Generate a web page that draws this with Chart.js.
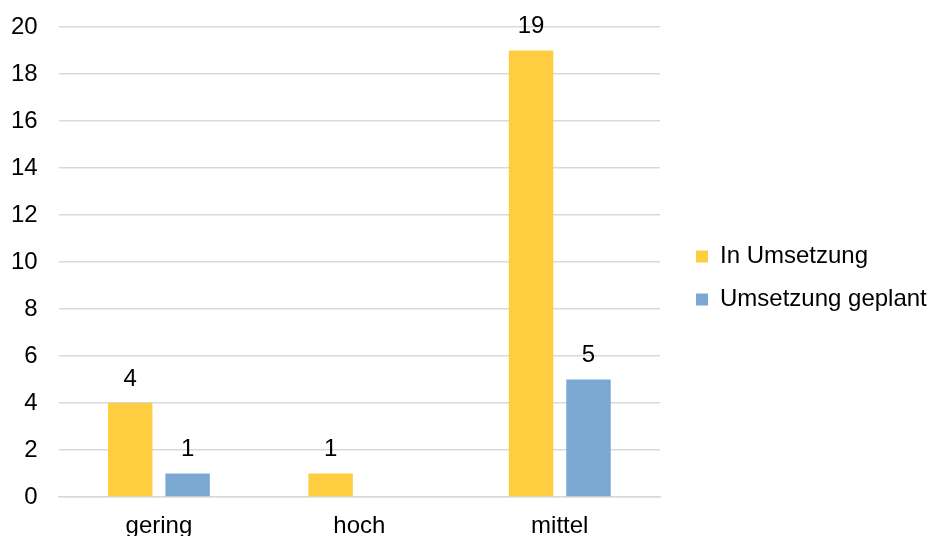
<!DOCTYPE html>
<html>
<head>
<meta charset="utf-8">
<script src="https://cdn.jsdelivr.net/npm/chart.js@4"></script>
<style>
  html, body { margin: 0; padding: 0; background: #fff; }
  #wrap { width: 930px; height: 536px; }
</style>
</head>
<body>
<div id="wrap"><canvas id="chart"></canvas></div>
<script>
// Daten
var kategorien = ['gering', 'hoch', 'mittel'];
var inUmsetzung = [4, 1, 19];
var umsetzungGeplant = [1, 0, 5];
var yTicks = [0, 2, 4, 6, 8, 10, 12, 14, 16, 18, 20];

var schrift = "'Liberation Sans', Arial, sans-serif";

// Werte über den Balken (0 wird nicht beschriftet)
var wertePlugin = {
    id: 'werte',
    afterDatasetsDraw: function(chart) {
        var ctx = chart.ctx;
        ctx.save();
        ctx.font = '24px ' + schrift;
        ctx.fillStyle = '#000';
        ctx.textAlign = 'center';
        ctx.textBaseline = 'middle';
        chart.data.datasets.forEach(function(ds, i) {
            chart.getDatasetMeta(i).data.forEach(function(bar, j) {
                if (!ds.data[j]) return;
                ctx.fillText(ds.data[j], bar.x, bar.y - 24);
            });
        });
        ctx.restore();
    }
};

// Legende etwas vom Diagramm abrücken
var legendePlugin = {
    id: 'legendeLage',
    beforeInit: function(chart) {
        var legend = chart.legend;
        var fit = legend.fit;
        legend.fit = function() {
            fit.call(this);
            this.width = 270;
        };
    },
    afterLayout: function(chart) {
        chart.legend.left += 17;
        chart.legend.top -= 13;
        chart.legend.bottom -= 13;
    }
};

new Chart(document.getElementById('chart'), {
    type: 'bar',
    data: {
        labels: kategorien,
        datasets: [{
            label: 'In Umsetzung',
            data: inUmsetzung,
            backgroundColor: '#FFCD40'
        }, {
            label: 'Umsetzung geplant',
            data: umsetzungGeplant,
            backgroundColor: '#7BA8D1'
        }]
    },
    options: {
        responsive: true,
        maintainAspectRatio: false,
        animation: false,
        categoryPercentage: 0.573,
        barPercentage: 0.774,
        layout: {
            padding: { top: 27, left: -10, right: 0, bottom: -19 }
        },
        plugins: {
            legend: {
                position: 'right',
                labels: {
                    boxWidth: 12,
                    boxHeight: 12,
                    padding: 19,
                    color: '#000',
                    font: { family: schrift, size: 24 }
                }
            },
            tooltip: { enabled: false }
        },
        scales: {
            x: {
                grid: { display: false, drawTicks: false },
                border: { display: true, color: '#D9D9D9', width: 1.5 },
                ticks: {
                    padding: 14.6,
                    color: '#000',
                    font: { family: schrift, size: 24 }
                }
            },
            y: {
                min: 0,
                max: 20,
                afterBuildTicks: function(axis) {
                    axis.ticks = yTicks.map(function(v) { return { value: v }; });
                },
                afterFit: function(axis) {
                    axis.paddingTop = 0;
                    axis.paddingBottom = 0;
                },
                grid: { color: '#D9D9D9', lineWidth: 1.5, drawTicks: false },
                border: { display: false },
                ticks: {
                    padding: 21,
                    color: '#000',
                    font: { family: schrift, size: 24 }
                }
            }
        }
    },
    plugins: [wertePlugin, legendePlugin]
});
</script>
</body>
</html>
